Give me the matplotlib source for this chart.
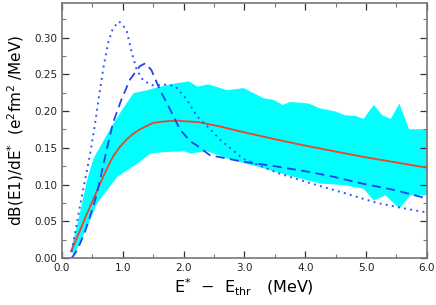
import numpy as np
import matplotlib.pyplot as plt
from matplotlib.ticker import MultipleLocator, FormatStrFormatter

# Uncertainty band (upper and lower edges)
band_x_up = [0.14, 0.25, 0.41, 0.51, 0.68, 0.84, 1.01, 1.17, 1.39, 1.61, 1.83, 2.08,
             2.22, 2.40, 2.60, 2.71, 2.98, 3.31, 3.47, 3.62, 3.75, 4.05, 4.21, 4.49,
             4.65, 4.82, 4.95, 5.12, 5.26, 5.40, 5.54, 5.70, 6.00]
band_up = [0.012, 0.048, 0.108, 0.136, 0.161, 0.184, 0.206, 0.225, 0.229, 0.234, 0.238, 0.241,
           0.234, 0.237, 0.232, 0.229, 0.232, 0.218, 0.216, 0.209, 0.213, 0.211, 0.205, 0.200,
           0.195, 0.194, 0.190, 0.209, 0.195, 0.190, 0.211, 0.176, 0.176]
band_x_lo = [0.14, 0.19, 0.41, 0.57, 0.735, 0.90, 1.06, 1.23, 1.45, 1.72, 2.00, 2.10,
             2.38, 2.71, 2.98, 3.26, 3.54, 3.91, 4.24, 4.62, 4.95, 5.12, 5.31, 5.54,
             5.72, 6.00]
band_lo = [0.012, 0.004, 0.043, 0.075, 0.093, 0.111, 0.120, 0.129, 0.143, 0.145, 0.146, 0.143,
           0.146, 0.136, 0.130, 0.124, 0.117, 0.109, 0.102, 0.100, 0.095, 0.079, 0.086, 0.068,
           0.086, 0.086]

# Solid red curve
red_x = [0.15, 0.30, 0.40, 0.51, 0.60, 0.68, 0.76, 0.84, 0.95, 1.06, 1.17, 1.28, 1.40,
         1.50, 1.70, 1.89, 2.05, 2.24, 2.60, 3.00, 3.54, 4.00, 4.62, 5.00, 5.50, 6.00]
red_y = [0.009, 0.038, 0.058, 0.079, 0.096, 0.111, 0.125, 0.138, 0.151, 0.161, 0.169, 0.175, 0.180,
         0.184, 0.186, 0.187, 0.186, 0.185, 0.179, 0.171, 0.161, 0.153, 0.143, 0.137, 0.130, 0.123]

# Dashed blue curve
dash_x = [0.16, 0.23, 0.30, 0.38, 0.46, 0.55, 0.625, 0.735, 0.84, 0.98, 1.12, 1.28, 1.37,
          1.47, 1.61, 1.78, 1.94, 2.11, 2.24, 2.43, 2.98, 3.50, 4.08, 4.50, 4.90, 5.50, 6.00]
dash_y = [0.000, 0.008, 0.020, 0.036, 0.056, 0.080, 0.106, 0.147, 0.184, 0.216, 0.243, 0.261, 0.265,
          0.256, 0.229, 0.202, 0.175, 0.159, 0.152, 0.140, 0.131, 0.125, 0.117, 0.110, 0.102,
          0.092, 0.081]

# Dotted blue curve
dot_x = [0.16, 0.23, 0.30, 0.38, 0.46, 0.54, 0.61, 0.68, 0.76, 0.84, 0.94, 1.06, 1.15, 1.23,
         1.34, 1.50, 1.72, 1.86, 2.05, 2.22, 2.43, 2.60, 2.98, 3.54, 4.08, 4.62, 5.18, 5.60, 6.00]
dot_y = [0.009, 0.040, 0.072, 0.106, 0.140, 0.180, 0.220, 0.258, 0.293, 0.313, 0.322, 0.311, 0.279,
         0.256, 0.241, 0.235, 0.236, 0.234, 0.216, 0.193, 0.176, 0.161, 0.135, 0.116, 0.102, 0.089,
         0.075, 0.068, 0.062]

plt.rcParams['font.family'] = 'DejaVu Sans'
fig = plt.figure(figsize=(4.36, 3.05), dpi=100)
ax = fig.add_axes([0.142, 0.154, 0.837, 0.836])

xf = np.union1d(band_x_up, band_x_lo)
ax.fill_between(xf, np.interp(xf, band_x_lo, band_lo), np.interp(xf, band_x_up, band_up),
                color='#00ffff', linewidth=0)
ax.plot(red_x, red_y, color='#e8472a', linewidth=1.3)
ax.plot(dash_x, dash_y, color='#2244ee', linewidth=1.3, linestyle=(0, (5, 3)))
ax.plot(dot_x, dot_y, color='#3355ff', linewidth=1.4, linestyle=(0, (1, 2.2)))

ax.set_xlim(0, 6.0)
ax.set_ylim(0, 0.347)
ax.xaxis.set_major_locator(MultipleLocator(1.0))
ax.xaxis.set_minor_locator(MultipleLocator(0.5))
ax.yaxis.set_major_locator(MultipleLocator(0.05))
ax.yaxis.set_minor_locator(MultipleLocator(0.025))
ax.xaxis.set_major_formatter(FormatStrFormatter('%.1f'))
ax.yaxis.set_major_formatter(FormatStrFormatter('%.2f'))
ax.tick_params(which='both', direction='in', top=True, right=True, color='#333333',
               labelsize=7.5, labelcolor='#222222')
ax.tick_params(which='major', length=5, width=0.9)
ax.tick_params(which='minor', length=3, width=0.8, color='#777777')
for s in ax.spines.values():
    s.set_color('#777777')
    s.set_linewidth(1.2)

ax.set_xlabel(r'E$^{*}$  $-$  E$_{\rm thr}$   (MeV)', fontsize=11.5, labelpad=3)
ax.set_ylabel(r'dB(E1)/dE$^{*}$  (e$^{2}$fm$^{2}$ /MeV)', fontsize=11, labelpad=6)

fig.savefig('out.png', dpi=100)
